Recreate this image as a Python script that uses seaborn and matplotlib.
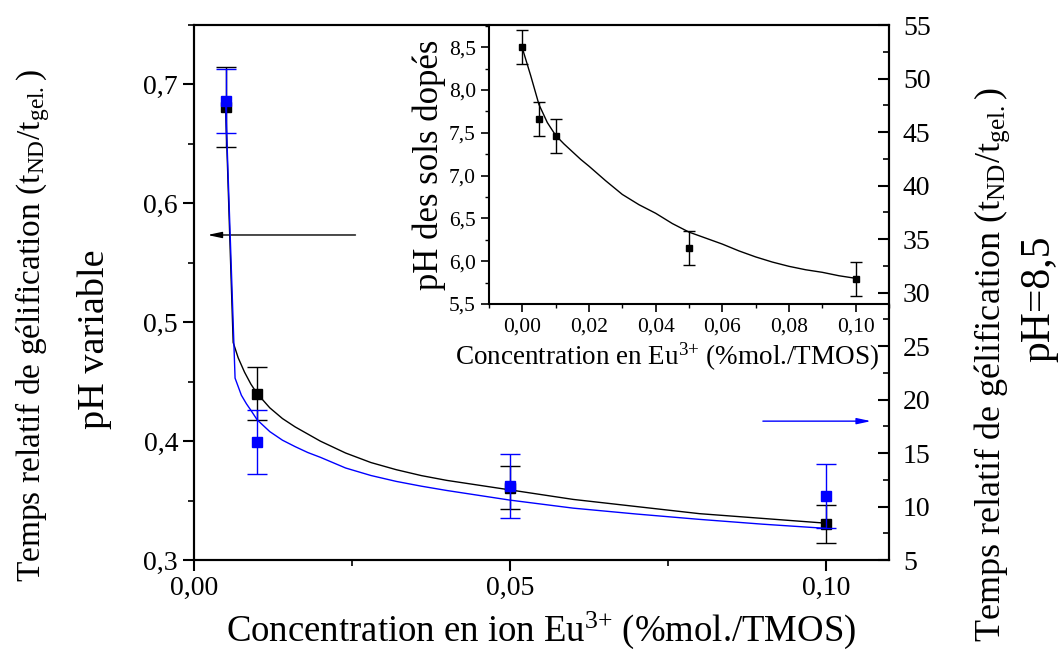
import numpy as np
import pandas as pd
import matplotlib
matplotlib.use('Agg')
import matplotlib.pyplot as plt
from matplotlib.ticker import FuncFormatter, MultipleLocator
import seaborn as sns

# measured points (main plot)
conc = [0.005, 0.01, 0.05, 0.10]
t_var = [0.681, 0.440, 0.361, 0.330]        # pH variable, left axis
t_var_err = [0.034, 0.022, 0.018, 0.016]
t_85 = [47.9, 16.0, 11.9, 11.0]             # pH=8,5, right axis
t_85_err = [3.0, 3.0, 3.0, 3.0]

# fitted curves
fit_x_var = [0.005, 0.0062, 0.007, 0.008, 0.009, 0.01, 0.012, 0.014, 0.016, 0.018, 0.02,
             0.024, 0.028, 0.032, 0.036, 0.04, 0.045, 0.05, 0.06, 0.07, 0.08, 0.09, 0.10]
fit_y_var = [0.681, 0.483, 0.470, 0.458, 0.448, 0.440, 0.428, 0.419, 0.412, 0.406, 0.400,
             0.390, 0.382, 0.376, 0.371, 0.367, 0.363, 0.359, 0.351, 0.345, 0.339, 0.335, 0.331]
fit_x_85 = [0.005, 0.0065, 0.0075, 0.0083, 0.009, 0.01, 0.012, 0.014, 0.016, 0.018, 0.02,
            0.024, 0.028, 0.032, 0.036, 0.04, 0.045, 0.05, 0.06, 0.07, 0.08, 0.09, 0.10]
fit_y_85 = [47.9, 22.0, 20.4, 19.6, 19.0, 18.1, 17.0, 16.2, 15.6, 15.05, 14.6,
            13.6, 12.9, 12.35, 11.9, 11.5, 11.05, 10.6, 9.85, 9.3, 8.8, 8.35, 7.96]

# inset: pH of the doped sols
ph_conc = [0.0, 0.005, 0.01, 0.05, 0.10]
ph = [8.50, 7.66, 7.46, 6.15, 5.79]
ph_err = [0.2, 0.2, 0.2, 0.2, 0.2]
ph_fit_x = [0.0, 0.0025, 0.005, 0.0075, 0.01, 0.0125, 0.015, 0.0175, 0.02, 0.025, 0.03,
            0.035, 0.04, 0.045, 0.05, 0.055, 0.06, 0.065, 0.07, 0.075, 0.08, 0.085,
            0.09, 0.095, 0.10]
ph_fit_y = [8.49, 8.17, 7.83, 7.62, 7.47, 7.37, 7.28, 7.19, 7.11, 6.94, 6.78,
            6.66, 6.56, 6.44, 6.34, 6.27, 6.20, 6.12, 6.05, 5.99, 5.94, 5.90,
            5.87, 5.83, 5.80]

sns.set_theme(style='ticks')
plt.rcParams['font.family'] = ['Liberation Serif', 'DejaVu Serif']
plt.rcParams['mathtext.default'] = 'regular'
plt.rcParams['axes.linewidth'] = 1.5
for k in ('text.color', 'axes.labelcolor', 'xtick.color', 'ytick.color', 'axes.edgecolor'):
    plt.rcParams[k] = 'black'

comma = lambda fmt: FuncFormatter(lambda v, p: fmt.format(v).replace('.', ','))

fig = plt.figure(figsize=(10.63, 6.57), dpi=100)
ax = fig.add_axes([0.1825, 0.1476, 0.6538, 0.8143])
ax2 = ax.twinx()

# left axis series (black)
sns.lineplot(x=fit_x_var, y=fit_y_var, ax=ax, color='black', lw=1.0, sort=False)
ax.errorbar(conc, t_var, yerr=t_var_err, fmt='s', color='black', ms=7.5,
            capsize=7, elinewidth=1, capthick=1)

# right axis series (blue)
sns.lineplot(x=fit_x_85, y=fit_y_85, ax=ax2, color='blue', lw=1.0, sort=False)
ax2.errorbar(conc, t_85, yerr=t_85_err, fmt='s', color='blue', ms=7.5,
             capsize=7, elinewidth=1, capthick=1)

ax.set_xlim(0, 0.11)
ax.set_ylim(0.3, 0.75)
ax2.set_ylim(5, 55)
ax.xaxis.set_major_locator(MultipleLocator(0.05))
ax.xaxis.set_minor_locator(MultipleLocator(0.025))
ax.yaxis.set_major_locator(MultipleLocator(0.1))
ax.yaxis.set_minor_locator(MultipleLocator(0.05))
ax2.yaxis.set_major_locator(MultipleLocator(5))
ax2.yaxis.set_minor_locator(MultipleLocator(2.5))
ax.xaxis.set_major_formatter(comma('{:.2f}'))
ax.yaxis.set_major_formatter(comma('{:.1f}'))
ax2.yaxis.set_major_formatter(comma('{:.0f}'))
ax.tick_params(which='major', length=8, width=1.5, labelsize=20, direction='out')
ax.tick_params(which='minor', length=4, width=1.2, direction='out')
ax2.tick_params(which='major', length=8, width=1.5, labelsize=20, direction='in', pad=10)
ax2.tick_params(which='minor', length=4, width=1.2, direction='in')
for a in (ax, ax2):
    for s in a.spines.values():
        s.set_linewidth(1.5)
        s.set_color('black')
    a.set_xlabel('')
    a.set_ylabel('')

ax.set_xlabel('Concentration en ion Eu$^{3{+}}$ (%mol./TMOS)', fontsize=26.5, labelpad=6)

# arrows pointing to the relevant axis
ax.annotate('', xy=(0.0017, 0.5734), xytext=(0.026, 0.5734),
            arrowprops=dict(arrowstyle='-|>,head_length=0.7,head_width=0.15', color='black', lw=1))
ax2.annotate('', xy=(0.1076, 17.98), xytext=(0.0896, 17.98),
             arrowprops=dict(arrowstyle='-|>,head_length=0.7,head_width=0.15', color='blue', lw=1))

# axis titles
ytitle = 'Temps relatif de gélification (t$_{ND}$/t$_{gel.}$)'
fig.text(0.031, 0.505, ytitle, rotation=90, ha='center', va='center', fontsize=24)
fig.text(0.089, 0.483, 'pH variable', rotation=90, ha='center', va='center', fontsize=27.5)
fig.text(0.933, 0.445, ytitle, rotation=90, ha='center', va='center', fontsize=26)
fig.text(0.978, 0.546, 'pH=8,5', rotation=90, ha='center', va='center', fontsize=30)

# inset
axi = fig.add_axes([0.46, 0.5373, 0.3763, 0.4247])
axi.patch.set_alpha(0)
sns.lineplot(x=ph_fit_x, y=ph_fit_y, ax=axi, color='black', lw=1.0, sort=False)
axi.errorbar(ph_conc, ph, yerr=ph_err, fmt='s', color='black', ms=4,
             capsize=4, elinewidth=1, capthick=1)
axi.set_xlim(-0.01, 0.11)
axi.set_ylim(5.5, 8.76)
axi.xaxis.set_major_locator(MultipleLocator(0.02))
axi.xaxis.set_minor_locator(MultipleLocator(0.01))
axi.yaxis.set_major_locator(MultipleLocator(0.5))
axi.yaxis.set_minor_locator(MultipleLocator(0.25))
axi.xaxis.set_major_formatter(comma('{:.2f}'))
axi.yaxis.set_major_formatter(comma('{:.1f}'))
axi.tick_params(which='major', length=6, width=1.2, labelsize=15.5, direction='out')
axi.tick_params(which='minor', length=3, width=1.0, direction='out')
axi.spines['top'].set_visible(False)
axi.spines['right'].set_visible(False)
axi.spines['left'].set_linewidth(1.5)
axi.spines['bottom'].set_linewidth(1.5)
axi.spines['left'].set_color('black')
axi.spines['bottom'].set_color('black')
axi.set_xlabel('Concentration en Eu$^{3{+}}$ (%mol./TMOS)', fontsize=19.5, labelpad=0)
axi.xaxis.set_label_coords(0.445, -0.13)
axi.set_ylabel('pH des sols dopés', fontsize=25, labelpad=2)

fig.savefig('out.png', dpi=100)
